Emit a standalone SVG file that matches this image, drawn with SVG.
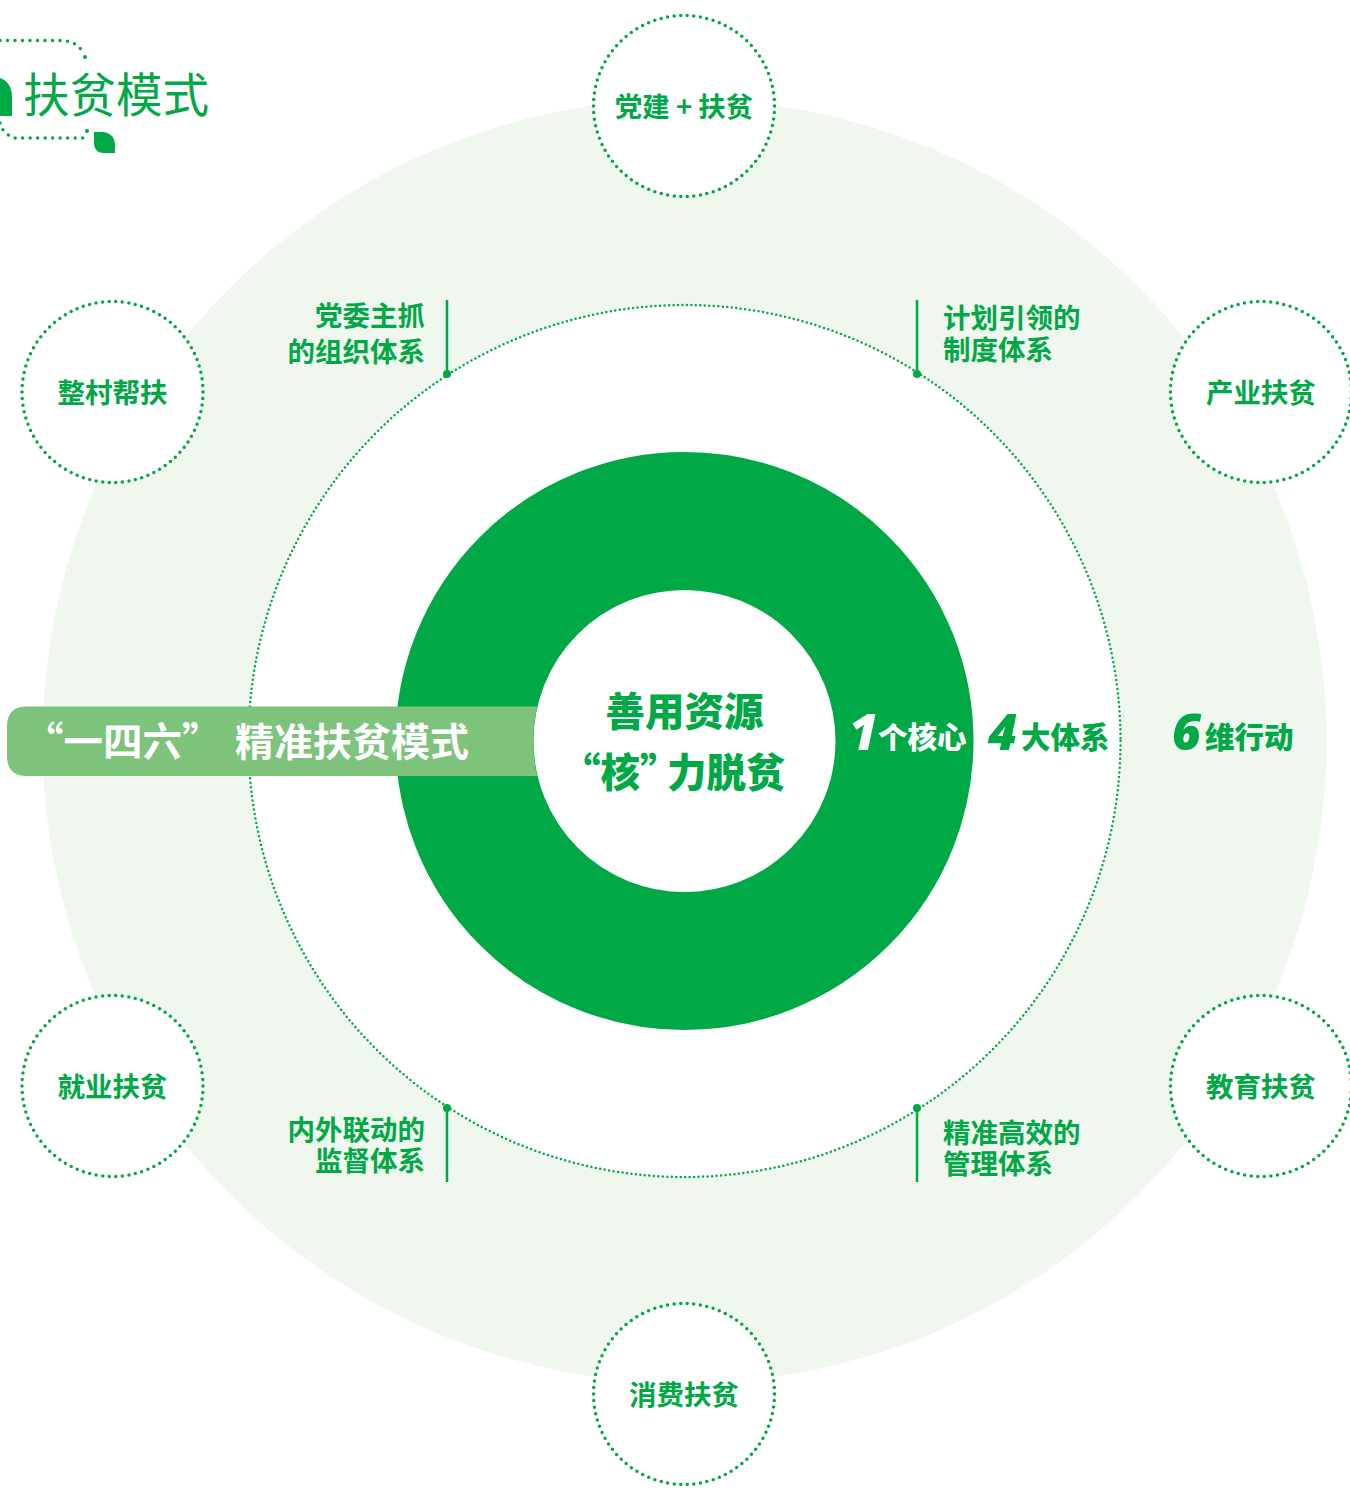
<svg xmlns="http://www.w3.org/2000/svg" width="1350" height="1511" viewBox="0 0 1350 1511">
<defs><style>
text{font-family:"Noto Sans CJK SC","Noto Sans",sans-serif;fill:#00a846}
.s{font-size:27.500px;font-weight:700;text-anchor:middle}
.l{font-size:27.500px;font-weight:700}
.e{text-anchor:end}
.dc{fill:#fff;stroke:#00a846;stroke-width:3.500;stroke-linecap:round;stroke-dasharray:0 6.600}
.n{font-family:"Open Sans","Noto Sans",sans-serif;font-size:50px;font-weight:800;font-style:italic}
.u{font-size:29.500px;font-weight:900}
.c{font-size:39.500px;font-weight:900}
.w{fill:#fff}
.tick{stroke:#00a846;stroke-width:2.500;fill:none}
</style></defs>
<rect width="1350" height="1511" fill="#fff"/>
<g id="rings">
<circle cx="684.500" cy="741" r="642" fill="#eff7ef"/>
<circle cx="684.500" cy="741" r="436" fill="#fff" stroke="#00a846" stroke-width="2.500" stroke-linecap="round" stroke-dasharray="0 4.500"/>
<circle cx="684.500" cy="741" r="220" fill="none" stroke="#00a846" stroke-width="138"/>
</g>
<g id="banner">
<path d="M27 706.500H537C532 730 532 752 537 776H27Q7 776 7 756V726.500Q7 706.500 27 706.500Z" fill="#7dc37b"/>
<text x="24" y="756" class="w" style="font-size:39.500px;font-weight:700">“一四六”</text>
<text x="235" y="756" class="w" style="font-size:39px;font-weight:700">精准扶贫模式</text>
</g>
<g id="title">
<path d="M0 40.500H62Q76 41 83 52" fill="none" stroke="#00a846" stroke-width="3.500" stroke-linecap="round" stroke-dasharray="0 7.500"/>
<path d="M0 123Q2 133 14 138H88" fill="none" stroke="#00a846" stroke-width="3.500" stroke-linecap="round" stroke-dasharray="0 7.500"/>
<circle cx="85" cy="57" r="2" fill="#00a846"/><circle cx="87" cy="131" r="2" fill="#00a846"/>
<path d="M0 78Q12 82 12 98V116H0Z" fill="#00a846"/>
<path d="M94 132H104Q115 134 115 146V153H104Q94 153 94 142Z" fill="#00a846"/>
<text x="23" y="112" style="font-size:46.500px;font-weight:400">扶贫模式</text>
</g>
<g id="center-label">
<text x="684.500" y="726" text-anchor="middle" class="c">善用资源</text>
<text x="561" y="787" class="c">“核”</text>
<text x="667" y="787" class="c">力脱贫</text>
</g>
<g id="count-1"><text x="849" y="750" class="n w">1</text><text x="878" y="748" class="u w">个核心</text></g>
<g id="count-4"><text x="988" y="750" class="n">4</text><text x="1021" y="748" class="u">大体系</text></g>
<g id="count-6"><text x="1172" y="750" class="n">6</text><text x="1205" y="748" class="u">维行动</text></g>
<g id="n-top"><circle class="dc" cx="684" cy="106" r="90.500"/><text class="s" x="684" y="116.500">党建 + 扶贫</text></g>
<g id="n-ur"><circle class="dc" cx="1261" cy="392" r="90.500"/><text class="s" x="1261" y="402.500">产业扶贫</text></g>
<g id="n-lr"><circle class="dc" cx="1261" cy="1086" r="90.500"/><text class="s" x="1261" y="1096.500">教育扶贫</text></g>
<g id="n-bottom"><circle class="dc" cx="684" cy="1394" r="90.500"/><text class="s" x="684" y="1404.500">消费扶贫</text></g>
<g id="n-ll"><circle class="dc" cx="112.500" cy="1086" r="90.500"/><text class="s" x="112.500" y="1096.500">就业扶贫</text></g>
<g id="n-ul"><circle class="dc" cx="112.500" cy="392" r="90.500"/><text class="s" x="112.500" y="402.500">整村帮扶</text></g>
<g id="connectors">
<path class="tick" d="M447 300V374M917 300V374M447 1108V1182M917 1108V1182"/>
<g fill="#00a846"><circle cx="447" cy="374" r="4"/><circle cx="917" cy="374" r="4"/><circle cx="447" cy="1108" r="4"/><circle cx="917" cy="1108" r="4"/></g>
</g>
<g id="l-ul"><text class="l e" x="425" y="326">党委主抓</text><text class="l e" x="425" y="362">的组织体系</text></g>
<g id="l-ur"><text class="l" x="943" y="328">计划引领的</text><text class="l" x="943" y="359.500">制度体系</text></g>
<g id="l-ll"><text class="l e" x="425" y="1140">内外联动的</text><text class="l e" x="425" y="1171">监督体系</text></g>
<g id="l-lr"><text class="l" x="943" y="1143">精准高效的</text><text class="l" x="943" y="1174">管理体系</text></g>
</svg>
